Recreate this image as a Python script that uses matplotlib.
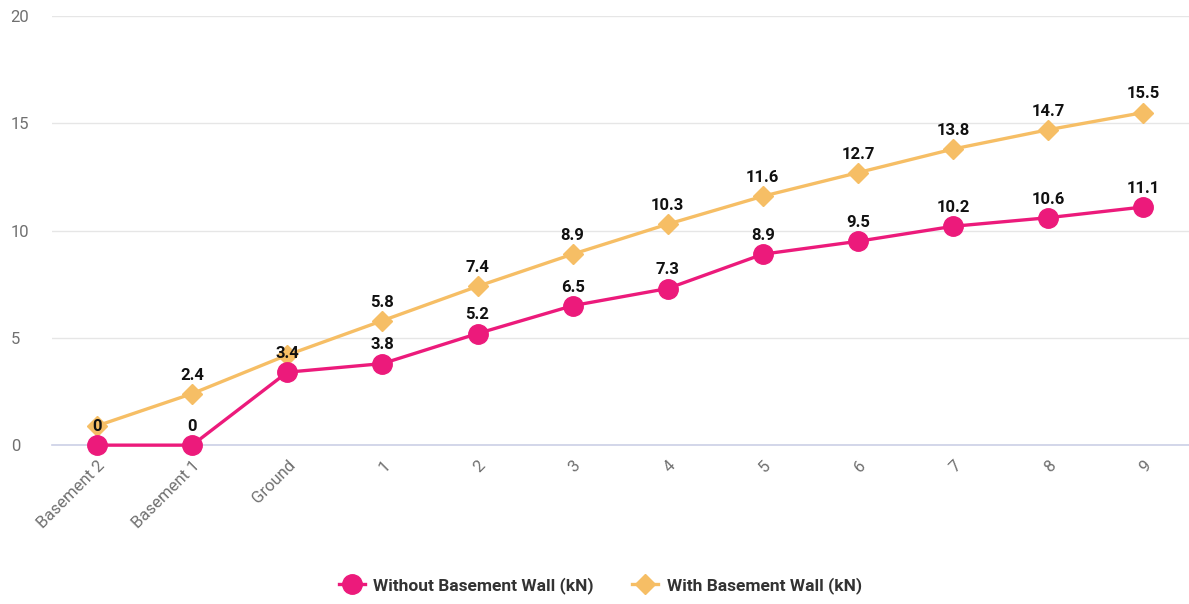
import matplotlib.pyplot as plt
import numpy as np

plt.rcParams['font.family'] = ['Roboto', 'DejaVu Sans']

floors = ['Basement 2', 'Basement 1', 'Ground', '1', '2', '3', '4', '5', '6', '7', '8', '9']
without_wall = [0, 0, 3.4, 3.8, 5.2, 6.5, 7.3, 8.9, 9.5, 10.2, 10.6, 11.1]
with_wall = [0.9, 2.4, 4.2, 5.8, 7.4, 8.9, 10.3, 11.6, 12.7, 13.8, 14.7, 15.5]
# labels that would overlap the other series are left out
with_wall_shown = [False, True, False, True, True, True, True, True, True, True, True, True]

PINK = '#ec1a7b'
ORANGE = '#f6be65'

fig = plt.figure(figsize=(11.89, 6.04), dpi=100)
ax = fig.add_axes([0.044, 0.263, 0.956, 0.7105])
x = np.arange(len(floors))

ax.plot(x, with_wall, color=ORANGE, lw=2.4, marker='D', ms=10, zorder=3,
        clip_on=False, label='With Basement Wall (kN)')
ax.plot(x, without_wall, color=PINK, lw=2.4, marker='o', ms=14, zorder=4,
        clip_on=False, label='Without Basement Wall (kN)')

for xi, v, show in zip(x, with_wall, with_wall_shown):
    if show:
        ax.annotate(f'{v:g}', (xi, v), xytext=(0, 8), textcoords='offset points',
                    ha='center', va='bottom', fontsize=12, fontweight='bold',
                    color='#111111', zorder=5)
for xi, v in zip(x, without_wall):
    ax.annotate(f'{v:g}', (xi, v), xytext=(0, 8), textcoords='offset points',
                ha='center', va='bottom', fontsize=12, fontweight='bold',
                color='#111111', zorder=5)

ax.set_xlim(-0.47, len(floors) - 0.52)
ax.set_ylim(0, 20)
ax.set_yticks([0, 5, 10, 15, 20])
ax.set_xticks(x)
ax.set_xticklabels(floors, rotation=45, ha='right', rotation_mode='anchor')
ax.tick_params(axis='both', length=0, labelsize=12, labelcolor='#707070')
ax.tick_params(axis='x', pad=9)
ax.tick_params(axis='y', pad=30)
for lbl in ax.get_yticklabels():
    lbl.set_horizontalalignment('left')

ax.grid(axis='y', color='#e6e6e6', lw=1)
ax.set_axisbelow(True)
for s in ['top', 'right', 'left']:
    ax.spines[s].set_visible(False)
ax.spines['bottom'].set_color('#ccd0e6')
ax.spines['bottom'].set_linewidth(1.2)

handles, labels = ax.get_legend_handles_labels()
leg = fig.legend(handles[::-1], labels[::-1], loc='center', bbox_to_anchor=(0.505, 0.031),
                 ncol=2, frameon=False, fontsize=12.5, handlelength=1.5,
                 columnspacing=2.2, handletextpad=0.5)
for t in leg.get_texts():
    t.set_fontweight('bold')
    t.set_color('#333333')

fig.savefig('out.png', dpi=100)
